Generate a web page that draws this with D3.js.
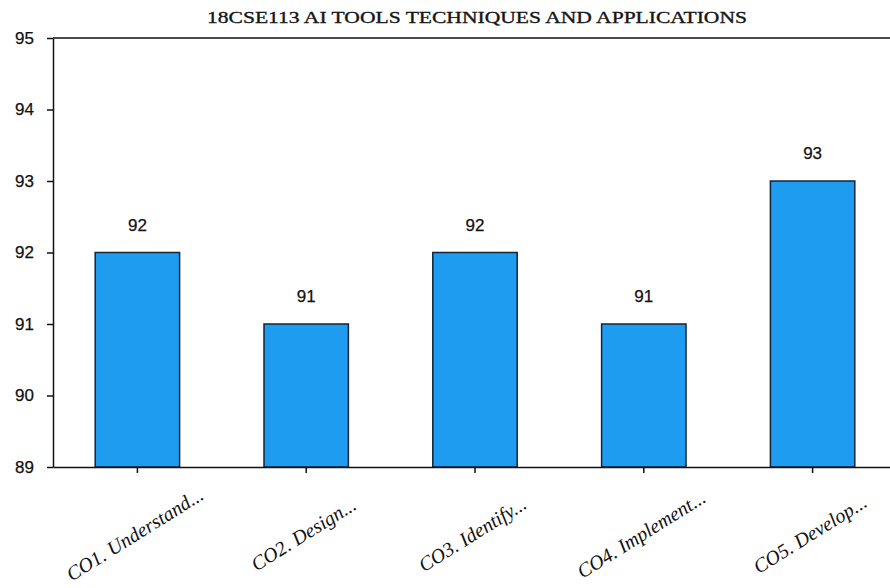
<!DOCTYPE html>
<html>
<head>
<meta charset="utf-8">
<script src="https://cdn.jsdelivr.net/npm/d3@7"></script>
<style>
  html, body { margin: 0; padding: 0; background: #fff; }
  svg { display: block; }
</style>
</head>
<body>
<svg id="chart" width="890" height="588"></svg>
<script>
const title = "18CSE113 AI TOOLS TECHNIQUES AND APPLICATIONS";
const categories = ["CO1. Understand...", "CO2. Design...", "CO3. Identify...", "CO4. Implement...", "CO5. Develop..."];
const values = [92, 91, 92, 91, 93];
const yTicks = [89, 90, 91, 92, 93, 94, 95];

(function () {
const svg = d3.select("#chart");
const pLeft = 53, pRight = 897, pTop = 38, pBottom = 467;

const x = d3.scaleBand().domain(categories).range([pLeft, pRight])
  .paddingInner(0.5).paddingOuter(0.25);
const y = d3.scaleLinear().domain([89, 95]).range([pBottom, pTop]);

svg.append("rect").attr("width", 890).attr("height", 588).attr("fill", "#fff");

// title
svg.append("text")
  .attr("x", 477).attr("y", 23)
  .attr("text-anchor", "middle")
  .attr("font-family", "'Liberation Serif', 'DejaVu Serif', serif")
  .attr("font-size", 17)
  .attr("fill", "#151515")
  .attr("stroke", "#151515").attr("stroke-width", 0.35)
  .attr("textLength", 540).attr("lengthAdjust", "spacingAndGlyphs")
  .text(title);

// top frame line
svg.append("line")
  .attr("x1", pLeft).attr("x2", 890).attr("y1", pTop).attr("y2", pTop)
  .attr("stroke", "#111").attr("stroke-width", 1.5);

// bars
svg.append("g").selectAll("rect").data(values).join("rect")
  .attr("x", (d, i) => x(categories[i]))
  .attr("y", d => y(d))
  .attr("width", x.bandwidth())
  .attr("height", d => pBottom - y(d))
  .attr("fill", "#1e9cf0")
  .attr("stroke", "#10243a").attr("stroke-width", 1.5);

// value labels
svg.append("g").selectAll("text").data(values).join("text")
  .attr("x", (d, i) => x(categories[i]) + x.bandwidth() / 2)
  .attr("y", d => y(d) - 22)
  .attr("text-anchor", "middle")
  .attr("font-family", "'Liberation Sans', Arial, sans-serif")
  .attr("font-size", 17)
  .attr("fill", "#111")
  .attr("stroke", "#111").attr("stroke-width", 0.25)
  .text(d => d);

// y axis
const yAxis = svg.append("g")
  .attr("transform", `translate(${pLeft},0)`)
  .call(d3.axisLeft(y).tickValues(yTicks).tickFormat(d3.format("d"))
    .tickSize(6).tickSizeOuter(0).tickPadding(13));
yAxis.select(".domain").attr("stroke", "#111").attr("stroke-width", 1.5);
yAxis.selectAll(".tick line").attr("stroke", "#111").attr("stroke-width", 1.5);
yAxis.selectAll(".tick text")
  .attr("font-family", "'Liberation Sans', Arial, sans-serif")
  .attr("font-size", 17).attr("fill", "#111")
  .attr("stroke", "#111").attr("stroke-width", 0.25);

// x axis
const xAxis = svg.append("g")
  .attr("transform", `translate(0,${pBottom})`)
  .call(d3.axisBottom(x).tickSize(6).tickSizeOuter(0));
xAxis.select(".domain").attr("stroke", "#111").attr("stroke-width", 1.5);
xAxis.selectAll(".tick line").attr("stroke", "#111").attr("stroke-width", 1.5);
xAxis.selectAll(".tick text").remove();

// rotated category labels
svg.append("g").selectAll("text").data(categories).join("text")
  .attr("transform", d => `translate(${x(d) + x.bandwidth() / 2 + 1},${pBottom + 73}) rotate(-32)`)
  .attr("text-anchor", "middle")
  .attr("font-family", "'Liberation Serif', 'DejaVu Serif', serif")
  .attr("font-style", "italic")
  .attr("font-size", 20)
  .attr("fill", "#111")
  .text(d => d);
})();
</script>
</body>
</html>
